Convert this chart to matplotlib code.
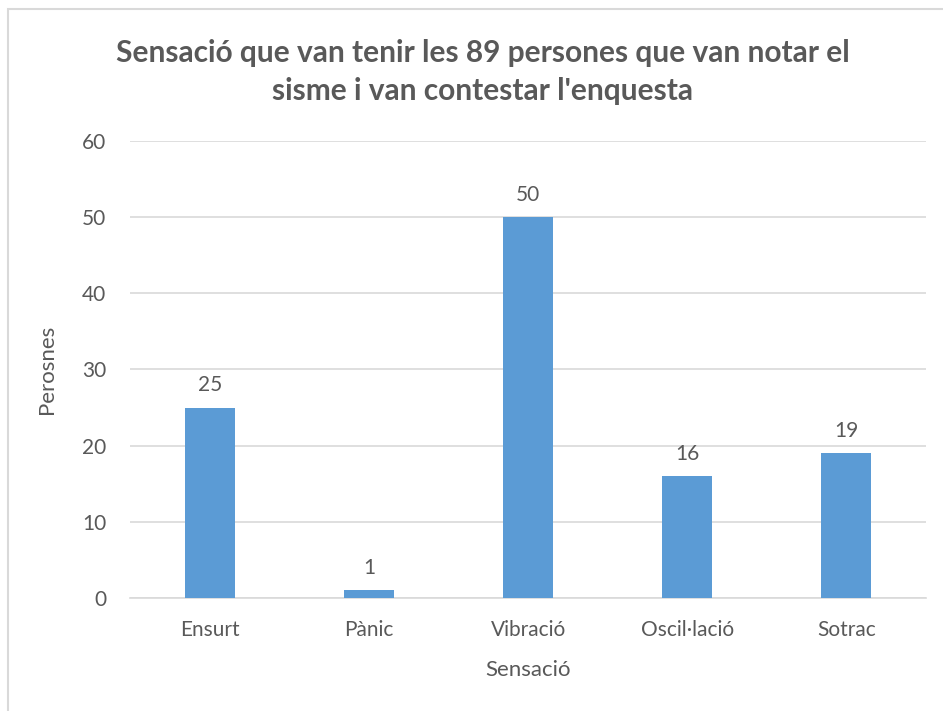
import matplotlib
matplotlib.use("Agg")
import matplotlib.pyplot as plt
from matplotlib.patches import Rectangle

categories = ["Ensurt", "Pànic", "Vibració", "Oscil·lació", "Sotrac"]
persons = [25, 1, 50, 16, 19]
yticks = [0, 10, 20, 30, 40, 50, 60]

title = "Sensació que van tenir les 89 persones que van notar el\nsisme i van contestar l'enquesta"
text_color = "#595959"
bar_color = "#5B9BD5"
grid_color = "#D9D9D9"

plt.rcParams["font.family"] = ["Lato", "DejaVu Sans"]

fig = plt.figure(figsize=(9.43, 7.11), dpi=100)
ax = fig.add_axes([0.138, 0.159, 0.844, 0.6427])

# chart border
fig.patches.append(Rectangle((8 / 943, -0.05), 1.1, 1 - 9 / 711 + 0.05,
                             transform=fig.transFigure, fill=False,
                             edgecolor=grid_color, linewidth=1.5))

x = range(len(categories))
ax.bar(x, persons, width=0.314, color=bar_color, zorder=3)
for xi, v in zip(x, persons):
    ax.annotate(str(v), (xi, v), xytext=(0, 9), textcoords="offset points",
                ha="center", va="bottom", fontsize=15, color=text_color)

ax.set_xlim(-0.5, len(categories) - 0.5)
ax.set_ylim(0, 60)
ax.set_yticks(yticks)
ax.set_xticks(list(x))
ax.set_xticklabels(categories)
ax.yaxis.grid(True, color=grid_color, linewidth=1.2, zorder=0)
ax.tick_params(axis="both", length=0, labelsize=15, labelcolor=text_color)
ax.tick_params(axis="y", pad=17)
ax.tick_params(axis="x", pad=16)
for side in ["top", "right", "left"]:
    ax.spines[side].set_visible(False)
ax.spines["bottom"].set_color(grid_color)
ax.spines["bottom"].set_linewidth(1.2)

ax.set_xlabel("Sensació", fontsize=16, color=text_color, labelpad=14)
ax.set_ylabel("Perosnes", fontsize=16, color=text_color, labelpad=18)
fig.text(0.512, 0.8985, title, ha="center", va="center", fontsize=21.5,
         fontweight="bold", color=text_color, linespacing=1.45)

fig.savefig("out.png", dpi=100)
